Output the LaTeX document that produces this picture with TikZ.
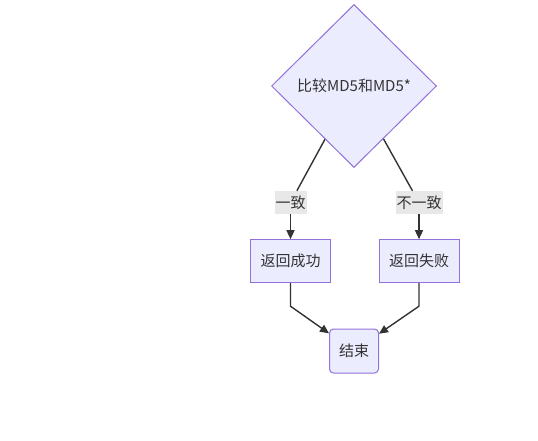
\documentclass[tikz,border=0pt]{standalone}
\usepackage{fontspec}
\setmainfont{Noto Sans CJK SC}
\usetikzlibrary{positioning,calc,arrows.meta,shapes.geometric}
\definecolor{nodefill}{HTML}{ECECFF}
\definecolor{nodeline}{HTML}{9370DB}
\definecolor{edgeline}{HTML}{333333}
\definecolor{labelfill}{HTML}{E8E8E8}

\begin{document}
\begin{tikzpicture}[x=1pt,y=1pt,font=\fontsize{15}{18}\selectfont,text=edgeline]
    \tikzstyle{box}=[rectangle,
                     draw=nodeline,
                     fill=nodefill,
                     line width=1pt,
                     minimum width=80pt,
                     minimum height=43pt,
                     inner sep=0pt]
    \tikzstyle{check}=[diamond,
                       draw=nodeline,
                       fill=nodefill,
                       line width=1pt,
                       minimum width=165pt,
                       minimum height=163pt,
                       inner sep=0pt]
    \tikzstyle{tag}=[fill=labelfill,
                     inner xsep=1pt,
                     inner ysep=0pt,
                     minimum height=23pt]

    \useasboundingbox (0,0) rectangle (538,-441);

    \node[check] (a) at (354,-86)       {比较MD5和MD5*};
    \node[tag]   (la) at (290.5,-202.5) {一致};
    \node[box]   (b) [below = 25pt of la]  {返回成功};
    \node[box]   (c) [right = 47.5pt of b] {返回失败};
    \node[tag]   (lb) [above = 25pt of c]  {不一致};
    \node[box, rounded corners=4pt, minimum width=49pt, minimum height=44pt]
                 (d) at (354,-351)      {结束};

    \tikzset{edgestyle/.style={draw=edgeline, line width=1.4pt}}
    \tikzset{arrowstyle/.style={edgestyle, -{Triangle[length=9pt,width=8pt]}}}

    \coordinate (bd) at ($(b.south)+(0,-23)$);
    \coordinate (cd) at ($(c.south)+(0,-23)$);

    \path (a)  edge [edgestyle]  (la)
          (la) edge [arrowstyle] (b)
          (a)  edge [edgestyle]  (lb)
          (lb) edge [arrowstyle] (c);
    \draw[arrowstyle] (b) -- (bd) -- (d);
    \draw[arrowstyle] (c) -- (cd) -- (d);
\end{tikzpicture}
\end{document}
